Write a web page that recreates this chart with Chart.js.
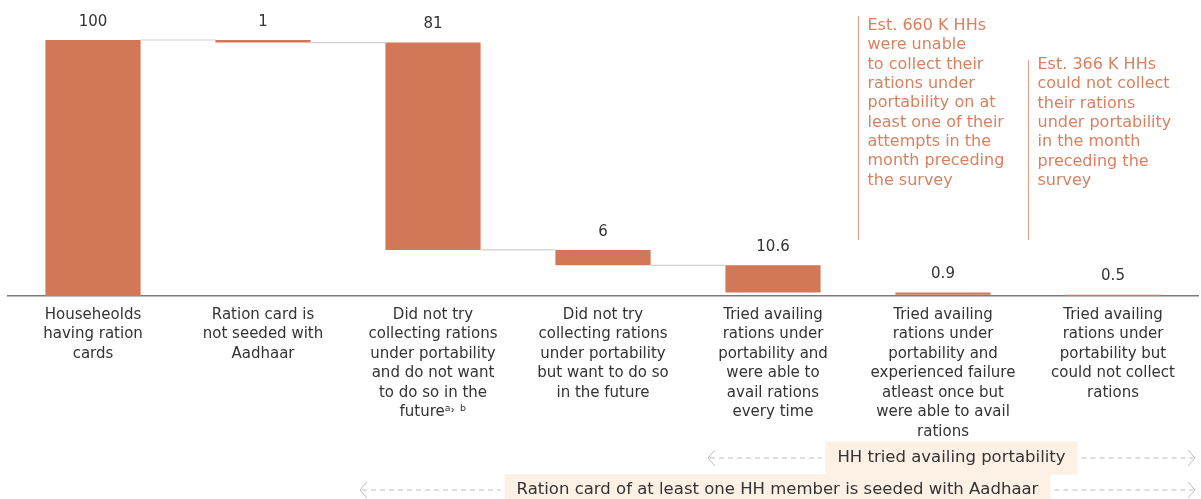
<!DOCTYPE html>
<html lang="en">
  <head>
    <meta charset="UTF-8" />
    <title>Ration portability waterfall</title>
    <script src="https://cdn.jsdelivr.net/npm/chart.js"></script>
    <style>
      html, body { margin: 0; padding: 0; background: #ffffff; }
      .chart-container { position: relative; width: 1201px; height: 499px; }
    </style>
  </head>
  <body>
    <div class="chart-container">
      <canvas id="waterfallChart"></canvas>
    </div>

    <script>
      // Category labels (one array per line of text)
      const categories = [
        ["Househeolds", "having ration", "cards"],
        ["Ration card is", "not seeded with", "Aadhaar"],
        ["Did not try", "collecting rations", "under portability", "and do not want", "to do so in the", "futureᵃ˒ ᵇ"],
        ["Did not try", "collecting rations", "under portability", "but want to do so", "in the future"],
        ["Tried availing", "rations under", "portability and", "were able to", "avail rations", "every time"],
        ["Tried availing", "rations under", "portability and", "experienced failure", "atleast once but", "were able to avail", "rations"],
        ["Tried availing", "rations under", "portability but", "could not collect", "rations"]
      ];

      // Bar sizes shown above each bar
      const values = [100, 1, 81, 6, 10.6, 0.9, 0.5];
      // Level where each floating bar starts
      const bases = [0, 99, 18, 12, 1.4, 0.5, 0];
      // Bars followed by a grey connector line
      const connectorAfter = [0, 1, 2, 3];

      // Orange notes above the last two bars
      const notes = [
        { index: 5, lines: ["Est. 660 K HHs", "were unable", "to collect their", "rations under", "portability on at", "least one of their", "attempts in the", "month preceding", "the survey"] },
        { index: 6, lines: ["Est. 366 K HHs", "could not collect", "their rations", "under portability", "in the month", "preceding the", "survey"] }
      ];

      // Brackets under the axis (first / last category covered)
      const brackets = [
        { label: "HH tried availing portability", from: 4, to: 6 },
        { label: "Ration card of at least one HH member is seeded with Aadhaar", from: 2, to: 6 }
      ];

      const barColor = "#d27858";
      const noteColor = "#d9805f";
      const textColor = "#333333";
      const fontFamily = "'DejaVu Sans', sans-serif";

      const waterfallPlugin = {
        id: "waterfallExtras",
        afterDatasetsDraw(chart) {
          const ctx = chart.ctx;
          const meta = chart.getDatasetMeta(0);
          const x = chart.scales.x;
          const y = chart.scales.y;
          const step = x.getPixelForValue(1) - x.getPixelForValue(0);

          // connector lines between bars
          ctx.save();
          ctx.strokeStyle = "#cfcfcf";
          ctx.lineWidth = 1.2;
          connectorAfter.forEach((i) => {
            const level = y.getPixelForValue(bases[i + 1] + values[i + 1]);
            const a = meta.data[i];
            const b = meta.data[i + 1];
            ctx.beginPath();
            ctx.moveTo(a.x + a.width / 2, level);
            ctx.lineTo(b.x - b.width / 2, level);
            ctx.stroke();
          });

          // value labels
          ctx.fillStyle = textColor;
          ctx.font = "15px " + fontFamily;
          ctx.textAlign = "center";
          ctx.textBaseline = "middle";
          meta.data.forEach((bar, i) => {
            ctx.fillText(String(values[i]), bar.x, Math.min(bar.y - 18, 276));
          });

          // notes with vertical rule
          const noteTops = [16, 60];
          const firstLine = [26, 65];
          ctx.font = "16px " + fontFamily;
          ctx.textAlign = "left";
          notes.forEach((n, k) => {
            const lx = x.getPixelForValue(n.index) - step / 2 + 0.5;
            ctx.strokeStyle = "#e2a48c";
            ctx.lineWidth = 1.2;
            ctx.beginPath();
            ctx.moveTo(lx, noteTops[k]);
            ctx.lineTo(lx, 240);
            ctx.stroke();
            ctx.fillStyle = noteColor;
            n.lines.forEach((t, j) => ctx.fillText(t, lx + 9, firstLine[k] + j * 19.3));
          });

          // brackets below the labels
          const rowY = [458, 490];
          const boxH = [33, 32];
          ctx.font = "16.5px " + fontFamily;
          brackets.forEach((br, k) => {
            const left = x.getPixelForValue(br.from) - step / 2 + (k === 0 ? 20 : 12);
            const right = x.getPixelForValue(br.to) + step / 2 - 3;
            const mid = (left + right) / 2;
            const tw = ctx.measureText(br.label).width;
            const boxL = mid - tw / 2 - 12;
            const boxR = mid + tw / 2 + 12;
            const cy = rowY[k];
            ctx.fillStyle = "#fdf0e5";
            ctx.fillRect(boxL, cy - boxH[k] / 2, boxR - boxL, boxH[k]);
            ctx.strokeStyle = "#bdbdbd";
            ctx.lineWidth = 1;
            ctx.setLineDash([5, 4]);
            ctx.beginPath();
            ctx.moveTo(left + 2, cy);
            ctx.lineTo(boxL - 4, cy);
            ctx.moveTo(boxR + 4, cy);
            ctx.lineTo(right - 2, cy);
            ctx.stroke();
            ctx.setLineDash([]);
            ctx.beginPath();
            ctx.moveTo(left + 7, cy - 8);
            ctx.lineTo(left, cy);
            ctx.lineTo(left + 7, cy + 8);
            ctx.moveTo(right - 7, cy - 8);
            ctx.lineTo(right, cy);
            ctx.lineTo(right - 7, cy + 8);
            ctx.stroke();
            ctx.fillStyle = textColor;
            ctx.textAlign = "center";
            ctx.fillText(br.label, mid, cy);
          });
          ctx.restore();
        }
      };

      new Chart(document.getElementById("waterfallChart"), {
        type: "bar",
        data: {
          labels: categories,
          datasets: [{
            data: values.map((v, i) => [bases[i], bases[i] + v]),
            backgroundColor: barColor,
            borderWidth: 0,
            barPercentage: 0.56,
            categoryPercentage: 1
          }]
        },
        options: {
          responsive: true,
          maintainAspectRatio: false,
          animation: false,
          layout: { padding: { top: 40, left: 8, right: 3, bottom: 0 } },
          plugins: { legend: { display: false }, tooltip: { enabled: false } },
          scales: {
            x: {
              grid: { display: false },
              border: { display: true, color: "#7a7a7a", width: 1.5 },
              ticks: {
                color: textColor,
                padding: 1,
                maxRotation: 0,
                autoSkip: false,
                font: { family: fontFamily, size: 15, lineHeight: 1.3 }
              },
              afterFit(scale) { scale.height = 203; }
            },
            y: {
              display: false,
              min: 0,
              max: 100
            }
          }
        },
        plugins: [waterfallPlugin]
      });
    </script>
  </body>
</html>
